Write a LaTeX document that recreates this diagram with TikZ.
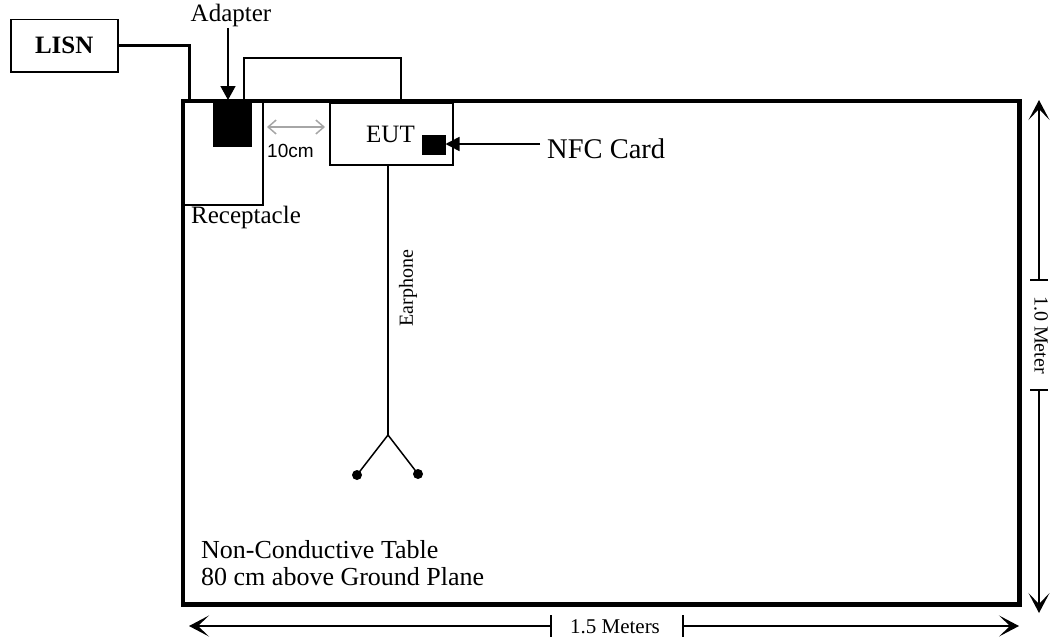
\documentclass[tikz,border=0pt]{standalone}
\usepackage{fontspec}
\setmainfont{Liberation Serif}
\setsansfont{Liberation Sans}
\usetikzlibrary{arrows.meta,calc}
\begin{document}
\begin{tikzpicture}[x=1pt,y=-1pt,
  box/.style={draw,line width=1.5pt,inner sep=0pt,anchor=north west},
  thickline/.style={line width=3pt},
  thinline/.style={line width=1.5pt},
  dimarrow/.style={line width=1.5pt,-{Stealth[length=20pt,width=21pt,inset=11pt]}},
  lbl/.style={inner sep=0pt,font=\fontsize{25}{30}\selectfont},
  solidarrow/.style={line width=1.5pt,-{Triangle[length=14pt,width=15pt]}}]
\useasboundingbox (0,0) rectangle (1051,642);
% LISN
\node[box,minimum width=107pt,minimum height=52pt,font=\fontsize{25}{30}\selectfont\bfseries] (lisn) at (10,19) {LISN};
% table
\node[box,line width=3pt,minimum width=835pt,minimum height=502pt] (table) at (182,100) {};
% receptacle
\node[box,minimum width=80pt,minimum height=104pt] (recept) at (182,100) {};
\draw[line width=3pt] (table.north west) -- (table.north east) -- (table.south east) -- (table.south west) -- cycle;
% adapter
\node[box,fill=black,minimum width=37pt,minimum height=45pt] (adapter) at (213,100) {};
% EUT
\node[box,minimum width=123pt,minimum height=62pt] (eut) at (329,102) {};
\node[box,fill=black,minimum width=22pt,minimum height=18pt] (nfc) at (422,135) {};
% LISN line
\coordinate (lc) at (189,100);
\draw[thickline] (lisn.east) -| (lc);
% adapter label and arrow
\node[lbl,anchor=base] (adlbl) at (231,22) {Adapter};
\coordinate (adtop) at (228,100);
\draw[solidarrow] (228,28) -- (adtop);
% wire adapter to EUT loop
\coordinate (w1) at (244,100);
\coordinate (w2) at (401,100);
\draw[thinline] (w1) -- ++(0,-42) -| (w2);
% labels
\node[lbl,anchor=base west] (reclbl) at (191,223) {Receptacle};
\node[lbl,anchor=base west] (eutlbl) at (366,142) {EUT};
\node[lbl,anchor=base west,font=\fontsize{28.5}{32}\selectfont] (nfclbl) at (547,158) {NFC Card};
\coordinate (nfcstart) at (540,144);
\draw[line width=1.5pt,-{Triangle[length=14pt,width=14pt]}] (nfcstart) -- (nfc.east |- nfcstart);
% 10 cm
\draw[gray!70,line width=1.5pt,{Straight Barb[length=8pt,width=14pt]}-{Straight Barb[length=8pt,width=14pt]}] (267,127) -- (325,127);
\node[inner sep=0pt,anchor=base west,font=\sffamily\fontsize{19}{22}\selectfont] (tencm) at (267,157) {10cm};
% earphone
\coordinate (ebr) at (388,435);
\draw[thinline] (eut.south -| ebr) -- (ebr);
\node[circle,fill=black,inner sep=0pt,minimum size=10pt] (d1) at (357,475) {};
\node[circle,fill=black,inner sep=0pt,minimum size=10pt] (d2) at (418,474) {};
\draw[thinline] (d1.center) -- (ebr) -- (d2.center);
\node[inner sep=0pt,rotate=90,font=\fontsize{20}{24}\selectfont] (earlbl) at (408,288) {Earphone};
% table text
\node[lbl,anchor=base west,font=\fontsize{26}{30}\selectfont] (t1) at (201,558) {Non-Conductive Table};
\node[lbl,anchor=base west,font=\fontsize{26}{30}\selectfont] (t2) at (201,585) {80 cm above Ground Plane};
% vertical dimension
\coordinate (vt1) at (1039,280);
\coordinate (vt2) at (1039,390);
\coordinate (vtop) at (1039,100);
\coordinate (vbot) at (1039,613);
\draw[dimarrow] (vt1) -- (vtop);
\draw[dimarrow] (vt2) -- (vbot);
\draw[thinline] ($(vt1)+(-9,0)$) -- ($(vt1)+(9,0)$);
\draw[thinline] ($(vt2)+(-9,0)$) -- ($(vt2)+(9,0)$);
\node[inner sep=0pt,rotate=-90,font=\fontsize{20}{24}\selectfont] (vlbl) at (1041,335) {1.0 Meter};
% horizontal dimension
\coordinate (ht1) at (551,626);
\coordinate (ht2) at (683,626);
\coordinate (hl) at (189,626);
\coordinate (hr) at (1019,626);
\draw[dimarrow] (ht1) -- (hl);
\draw[dimarrow] (ht2) -- (hr);
\draw[thinline] ($(ht1)+(0,-11)$) -- ($(ht1)+(0,11)$);
\draw[thinline] ($(ht2)+(0,-11)$) -- ($(ht2)+(0,11)$);
\node[inner sep=0pt,anchor=base,font=\fontsize{21}{24}\selectfont] (hlbl) at (615,633) {1.5 Meters};
\end{tikzpicture}
\end{document}
